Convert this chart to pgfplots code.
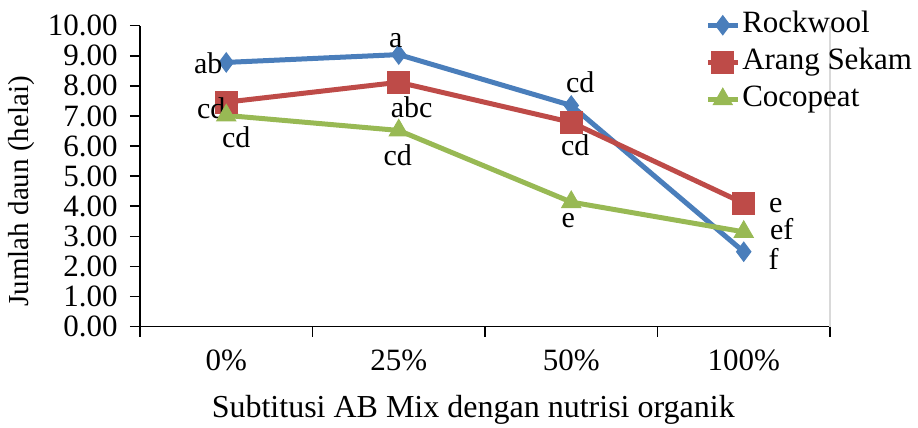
\documentclass[border=0pt]{standalone}
\usepackage{fontspec}
\setmainfont{Liberation Serif}
\usepackage{pgfplots}
\usepackage{pgfplotstable}
\pgfplotsset{compat=1.18}

\definecolor{rockblue}{HTML}{4A7EBB}
\definecolor{sekamred}{HTML}{BE4B48}
\definecolor{cocogreen}{HTML}{98B954}

% x = category index (0%, 25%, 50%, 100%), y = jumlah daun, notation label and its offset
\pgfplotstableread{
x y lab dx dy
0 8.78 ab -9 -0.5
1 9.04 a -1.5 7
2 7.35 cd 4.5 11.5
3 2.49 f 15 -3.5
}\rockwool
\pgfplotstableread{
x y lab dx dy
0 7.46 cd -7.5 -3
1 8.12 abc 6.5 -12.5
2 6.79 cd 2 -11.5
3 4.10 e 16 -1
}\sekam
\pgfplotstableread{
x y lab dx dy
0 7.02 cd 5 -11
1 6.52 cd -0.5 -12.5
2 4.14 e -1.5 -9
3 3.15 ef 19 1.5
}\cocopeat

\newcommand{\fs}[1]{\fontsize{#1}{1.2\dimexpr#1\relax}\selectfont}

\begin{document}%
\fs{15pt}%
\begin{tikzpicture}
\begin{axis}[
  name=ax,
  scale only axis,
  width=345pt, height=150.5pt,
  xmin=-0.5, xmax=3.5,
  ymin=0, ymax=10,
  axis lines=left,
  axis line style={-, line width=0.8pt, black},
  tick align=outside,
  major tick length=5pt,
  tick style={line width=0.8pt, black},
  xtick={0,1,2,3},
  xticklabels={0\%,25\%,50\%,100\%},
  x tick style={draw=none},
  extra x ticks={-0.5,0.5,1.5,2.5,3.5},
  extra x tick labels={},
  extra x tick style={x tick style={draw=black, line width=0.8pt}, major tick length=5pt},
  xticklabel style={yshift=-1.5pt},
  ytick distance=1,
  /pgf/number format/fixed,
  /pgf/number format/fixed zerofill,
  /pgf/number format/precision=2,
  /pgf/number format/assume math mode=true,
  yticklabel style={xshift=-1pt},
  ticklabel style={font=\fs{15.5pt}},
  xlabel={Subtitusi AB Mix dengan nutrisi organik},
  ylabel={Jumlah daun (helai)},
  x label style={at={(axis description cs:0.483,-0.276)}, anchor=center, font=\fs{16pt}},
  y label style={at={(axis description cs:-0.171,0.45)}, anchor=center, font=\fs{14.5pt}},
  clip=false,
  legend style={at={(axis description cs:0.810,1.066)}, anchor=north west, draw=none, fill=none,
    font=\fs{15.5pt},
    nodes={inner sep=1pt, text height=10pt, text depth=3pt}, row sep=3.5pt},
  legend cell align=left,
  legend image code/.code={\draw[#1, mark repeat=2, mark phase=2] plot coordinates {(0pt,0pt) (7.5pt,0pt) (15pt,0pt)};},
  nodes near coords={\pgfplotspointmeta},
  point meta=explicit symbolic,
  visualization depends on={\thisrow{dx} \as \dx},
  visualization depends on={\thisrow{dy} \as \dy},
  every node near coord/.append style={anchor=center, xshift=\dx pt, yshift=\dy pt, black, inner sep=0pt,
    font=\fs{15pt}},
]
\addplot[rockblue, line width=2.5pt, mark=diamond*, mark size=4.8pt, mark options={solid, line width=0.5pt}]
  table[x=x, y=y, meta=lab] {\rockwool};
\addlegendentry{Rockwool}
\addplot[sekamred, line width=2.5pt, mark=square*, mark size=5.5pt, mark options={solid, line width=0.5pt}]
  table[x=x, y=y, meta=lab] {\sekam};
\addlegendentry{Arang Sekam}
\addplot[cocogreen, line width=2.5pt, mark=triangle*, mark size=5.5pt, mark options={solid, line width=0.5pt}]
  table[x=x, y=y, meta=lab] {\cocopeat};
\addlegendentry{Cocopeat}
\draw[black!15, line width=0.8pt] (rel axis cs:1,0) -- (rel axis cs:1,1);
\end{axis}
\pgfresetboundingbox
\path ([shift={(-70pt,-50.65pt)}]ax.south west) rectangle ([shift={(389pt,163.35pt)}]ax.south west);
\end{tikzpicture}%
\end{document}
